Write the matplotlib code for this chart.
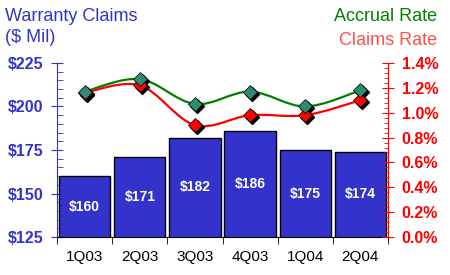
import matplotlib
matplotlib.use('Agg')
import matplotlib.pyplot as plt
import matplotlib.transforms as mtransforms
from matplotlib.path import Path
from matplotlib.patches import PathPatch
from matplotlib.ticker import MultipleLocator, FuncFormatter
import numpy as np

plt.rcParams['font.family'] = ['Liberation Sans', 'DejaVu Sans']

quarters = ['1Q03', '2Q03', '3Q03', '4Q03', '1Q04', '2Q04']
claims = [160, 171, 182, 186, 175, 174]
accrual_rate = [1.17, 1.27, 1.07, 1.17, 1.05, 1.18]
claims_rate = [1.16, 1.22, 0.90, 0.98, 0.98, 1.10]

BLUE = '#3333cc'
GREEN = '#008000'
RED = '#ff0000'


def smooth_path(xs, ys):
    # Catmull-Rom as cubic bezier segments, drawn by matplotlib Path
    pts = np.column_stack([xs, ys]).astype(float)
    verts = [pts[0]]
    codes = [Path.MOVETO]
    n = len(pts)
    for i in range(n - 1):
        p0 = pts[i - 1] if i > 0 else pts[i]
        p1, p2 = pts[i], pts[i + 1]
        p3 = pts[i + 2] if i + 2 < n else pts[i + 1]
        c1 = p1 + (p2 - p0) / 6.0
        c2 = p2 - (p3 - p1) / 6.0
        verts += [c1, c2, p2]
        codes += [Path.CURVE4] * 3
    return Path(verts, codes)


fig = plt.figure(figsize=(4.5, 2.75), dpi=100)
ax = fig.add_axes([0.127, 0.138, 0.735, 0.633])
x = np.arange(len(quarters))

bars = ax.bar(x, claims, width=0.93, color=BLUE, edgecolor='black', linewidth=1, zorder=2)
for xi, v in zip(x, claims):
    ax.text(xi, (125 + v) / 2, f'${v}', ha='center', va='center', color='white',
            fontsize=10, fontweight='bold', zorder=3)

ax.set_xlim(-0.5, 5.5)
ax.set_ylim(125, 225)
ax.yaxis.set_major_locator(MultipleLocator(25))
ax.yaxis.set_minor_locator(MultipleLocator(5))
ax.yaxis.set_major_formatter(FuncFormatter(lambda v, p: f'${v:.0f}'))
ax.tick_params(axis='y', which='major', direction='inout', length=8, color=BLUE,
               labelcolor=BLUE, labelsize=11.5, pad=6)
ax.tick_params(axis='y', which='minor', direction='in', length=4, color=BLUE)
for lab in ax.get_yticklabels():
    lab.set_fontweight('bold')

ax.set_xticks(x)
ax.set_xticklabels(quarters, fontsize=11)
ax.set_xticks(np.arange(-0.5, 6, 1), minor=True)
ax.tick_params(axis='x', which='major', length=0, pad=9)
ax.tick_params(axis='x', which='minor', direction='out', length=5, color='black')

ax.spines['top'].set_visible(False)
ax.spines['right'].set_visible(False)
ax.spines['left'].set_color(BLUE)
ax.spines['bottom'].set_color('black')

ax2 = ax.twinx()
ax2.set_ylim(0, 1.4)
ax2.yaxis.set_major_locator(MultipleLocator(0.2))
ax2.yaxis.set_minor_locator(MultipleLocator(0.04))
ax2.yaxis.set_major_formatter(FuncFormatter(lambda v, p: f'{v:.1f}%'))
ax2.tick_params(axis='y', which='major', direction='inout', length=8, color=RED,
                labelcolor=RED, labelsize=11.5, pad=6)
ax2.tick_params(axis='y', which='minor', direction='in', length=3, color=RED)
for lab in ax2.get_yticklabels():
    lab.set_fontweight('bold')
for s in ['top', 'left', 'bottom']:
    ax2.spines[s].set_visible(False)
ax2.spines['right'].set_color(RED)

ax2.add_patch(PathPatch(smooth_path(x, accrual_rate), facecolor='none',
                        edgecolor=GREEN, linewidth=1.6, zorder=3))
ax2.add_patch(PathPatch(smooth_path(x, claims_rate), facecolor='none',
                        edgecolor=RED, linewidth=1.6, zorder=3))

shadow = mtransforms.offset_copy(ax2.transData, fig=fig, x=2, y=-2, units='dots')
for series, fc in [(claims_rate, '#ff0000'), (accrual_rate, '#2e8b6e')]:
    ax2.plot(x, series, linestyle='none', marker='D', markersize=7,
             color='black', transform=shadow, zorder=4)
    ax2.plot(x, series, linestyle='none', marker='D', markersize=7,
             markerfacecolor=fc, markeredgecolor='black', markeredgewidth=0.5, zorder=5)

fig.text(0.012, 0.97, 'Warranty Claims\n($ Mil)', ha='left', va='top', color=BLUE,
         fontsize=13, linespacing=1.3)
fig.text(0.972, 0.97, 'Accrual Rate', ha='right', va='top', color=GREEN, fontsize=13)
fig.text(0.972, 0.882, 'Claims Rate', ha='right', va='top', color='#ff5050', fontsize=13)

fig.savefig('out.png', dpi=100)
